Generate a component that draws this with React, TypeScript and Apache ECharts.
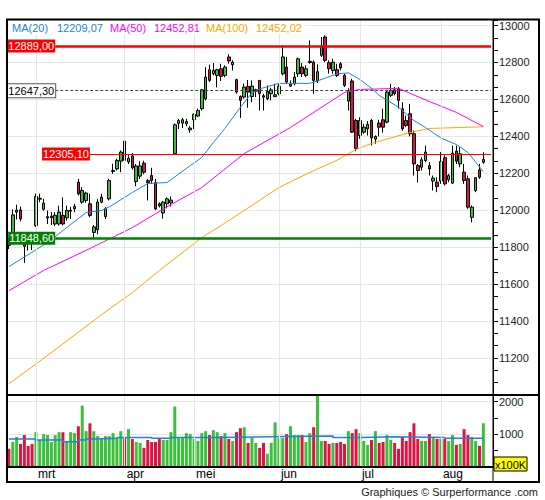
import React, { useEffect, useRef } from 'react';
import * as echarts from 'echarts';

const FONT = '"Liberation Sans", Arial, sans-serif';
const SLOT_COUNT = 126;
const categories = Array.from({ length: SLOT_COUNT }, (_, i) => `d${i}`);

const months = ['mrt', 'apr', 'mei', 'jun', 'jul', 'aug'];
const monthStartIdx = [7, 30, 48, 70, 91, 112];

// [open, close, low, high]
const ohlc: number[][] = [
  [11830, 11810, 11790, 11850], [11850, 11975, 11830, 12005], [11990, 12000, 11950, 12030], [12002, 11953, 11940, 12020], [11840, 11805, 11715, 11870],
  [11830, 11822, 11782, 11854], [11840, 11830, 11785, 11855], [11917, 12075, 11910, 12090], [12060, 12065, 12044, 12089], [12005, 12038, 11998, 12062],
  [11958, 11965, 11926, 11999], [11960, 11968, 11920, 11990], [11926, 11973, 11915, 11990], [11926, 11990, 11917, 12025], [11972, 11926, 11918, 12070],
  [11959, 11999, 11944, 12025], [11995, 12000, 11953, 12017], [12008, 12020, 11990, 12035], [12152, 12089, 12080, 12170], [12044, 12107, 12035, 12125],
  [12053, 12093, 12040, 12100], [12035, 11972, 11962, 12089], [11880, 11910, 11850, 11920], [11895, 12045, 11870, 12060], [12044, 12071, 12038, 12089],
  [11966, 12008, 11953, 12017], [12062, 12161, 12053, 12170], [12210, 12215, 12197, 12252], [12224, 12270, 12215, 12279], [12266, 12315, 12206, 12324],
  [12375, 12270, 12265, 12385], [12262, 12282, 12250, 12300], [12295, 12230, 12220, 12310], [12155, 12240, 12130, 12250], [12185, 12240, 12170, 12265],
  [12255, 12206, 12195, 12268], [12160, 12150, 12053, 12170], [12188, 12161, 12143, 12230], [12149, 12008, 12000, 12170], [12035, 12024, 12015, 12044],
  [11985, 12044, 11955, 12050], [12035, 12062, 12010, 12070], [12040, 12055, 12020, 12075], [12306, 12463, 12300, 12470], [12470, 12485, 12440, 12495],
  [12472, 12490, 12445, 12500], [12468, 12480, 12455, 12495], [12435, 12445, 12420, 12455], [12490, 12519, 12440, 12525], [12510, 12540, 12505, 12550],
  [12550, 12652, 12540, 12657], [12604, 12721, 12595, 12775], [12761, 12703, 12694, 12788], [12739, 12757, 12730, 12797], [12730, 12761, 12665, 12766],
  [12766, 12725, 12700, 12793], [12730, 12775, 12720, 12785], [12830, 12808, 12793, 12845], [12788, 12802, 12757, 12812], [12707, 12640, 12631, 12712],
  [12616, 12595, 12500, 12622], [12613, 12667, 12604, 12685], [12670, 12640, 12555, 12705], [12616, 12672, 12585, 12703], [12645, 12652, 12613, 12658],
  [12703, 12631, 12540, 12703], [12620, 12612, 12540, 12631], [12604, 12643, 12595, 12676], [12631, 12652, 12595, 12663], [12615, 12625, 12613, 12685],
  [12631, 12671, 12622, 12685], [12739, 12830, 12730, 12893], [12775, 12694, 12685, 12830], [12672, 12682, 12667, 12703], [12685, 12721, 12676, 12748],
  [12739, 12820, 12721, 12826], [12775, 12739, 12721, 12797], [12730, 12766, 12721, 12784], [12800, 12806, 12793, 12920], [12802, 12703, 12631, 12811],
  [12700, 12750, 12690, 12790], [12839, 12889, 12830, 12938], [12938, 12812, 12802, 12947], [12799, 12766, 12740, 12812], [12757, 12802, 12739, 12820],
  [12761, 12730, 12721, 12793], [12793, 12770, 12757, 12802], [12730, 12676, 12667, 12739], [12591, 12647, 12540, 12660], [12700, 12423, 12418, 12712],
  [12486, 12335, 12320, 12495], [12405, 12486, 12387, 12504], [12423, 12450, 12414, 12468], [12441, 12465, 12405, 12483], [12486, 12392, 12351, 12495],
  [12385, 12400, 12360, 12405], [12472, 12450, 12400, 12490], [12490, 12450, 12420, 12550], [12477, 12640, 12470, 12652], [12622, 12649, 12613, 12685],
  [12652, 12631, 12622, 12667], [12658, 12595, 12550, 12667], [12549, 12441, 12430, 12585], [12486, 12459, 12450, 12513], [12522, 12414, 12400, 12576],
  [12414, 12251, 12188, 12432], [12242, 12215, 12150, 12251], [12233, 12273, 12215, 12287], [12269, 12315, 12260, 12350], [12242, 12224, 12188, 12260],
  [12158, 12174, 12107, 12188], [12152, 12129, 12098, 12179], [12158, 12264, 12143, 12315], [12284, 12143, 12134, 12297], [12165, 12188, 12152, 12197],
  [12147, 12309, 12143, 12350], [12320, 12266, 12251, 12350], [12251, 12306, 12233, 12342], [12206, 12161, 12143, 12251], [12170, 12017, 12008, 12188],
  [11962, 12017, 11935, 12026], [12107, 12176, 12098, 12179], [12219, 12179, 12170, 12251], [12260, 12275, 12251, 12314],
];

// volume, in units of 100K
const volumes = [
  555, 765, 915, 705, 975, 645, 705, 1065, 825, 1005,
  975, 765, 975, 1065, 1065, 765, 1065, 1035, 1245, 1875,
  1095, 1335, 1095, 945, 855, 945, 945, 1035, 885, 1095,
  885, 1155, 855, 765, 735, 585, 825, 765, 765, 855,
  825, 825, 1065, 1845, 885, 885, 1035, 1005, 855, 795,
  1035, 1095, 975, 1125, 1065, 945, 1035, 855, 795, 1065,
  1185, 1215, 735, 885, 735, 585, 735, 405, 735, 1365,
  885, 885, 1005, 1245, 975, 975, 975, 765, 1035, 1215,
  2175, 795, 795, 705, 735, 735, 765, 705, 1095, 1035,
  1155, 1035, 795, 675, 825, 1095, 735, 765, 975, 825,
  735, 555, 915, 795, 1065, 1335, 855, 795, 795, 1005,
  885, 855, 855, 855, 795, 975, 675, 705, 1155, 975,
  915, 795, 645, 1335,
];

// moving averages: [day index, value]
const ma20Pts = [
  [0, 11695], [10, 11825], [20, 11988], [24, 11999], [26, 12018], [32, 12096], [36, 12145], [41, 12150],
  [47, 12242], [50, 12286], [53, 12367], [56, 12443], [60, 12557], [63, 12635], [65, 12657], [70, 12687],
  [78, 12687], [80, 12700], [85, 12738], [88, 12744], [91, 12708], [94, 12660], [96, 12622], [101, 12558],
  [105, 12486], [108, 12448], [112, 12391], [116, 12356], [119, 12313], [123, 12209],
];
const ma50Pts = [
  [0, 11565], [9, 11674], [21, 11793], [32, 11906], [42, 12031], [50, 12123], [61, 12307], [73, 12448],
  [87, 12638], [91, 12654], [101, 12660], [104, 12633], [109, 12589], [116, 12530], [123, 12453],
];
const ma100Pts = [
  [0, 11061], [11, 11229], [24, 11435], [32, 11554], [39, 11674], [50, 11852], [55, 11917], [63, 12026],
  [70, 12123], [78, 12205], [85, 12270], [90, 12329], [94, 12362], [104, 12421], [109, 12443], [123, 12452],
];
const volAvgPts = [
  [0, 855], [7, 825], [14, 775], [18, 825], [20, 855], [22, 875], [28, 905], [37, 875], [42, 905],
  [54, 925], [67, 945], [84, 905], [91, 925], [100, 905], [113, 875], [123, 875],
];

const legendItems = [
  { text: 'MA(20)', color: '#1e82dc' },
  { text: '12209,07', color: '#1e82dc' },
  { text: 'MA(50)', color: '#ff00ff' },
  { text: '12452,81', color: '#ff00ff' },
  { text: 'MA(100)', color: '#ffa500' },
  { text: '12452,02', color: '#ffa500' },
];
const legendX = [12, 57, 110, 154, 206, 256];

const levelValues = [12889.0, 12647.3, 12305.1, 11848.6];
const levelLabels = ['12889,00', '12647,30', '12305,10', '11848,60'];
const levelStartIdx = [12, 12, 21, 12];

const GREEN = '#3cbf3c';
const RED = '#dc1443';
const BLUE = '#1e82dc';

const levelStyles = [
  { line: { color: '#ff0000', width: 2.5, type: 'solid' }, label: { color: '#fff', backgroundColor: '#ff0000' } },
  { line: { color: '#444', width: 1, type: [3, 2] }, label: { color: '#000', backgroundColor: '#fff', borderColor: '#555', borderWidth: 1 } },
  { line: { color: '#ff0000', width: 1, type: 'solid' }, label: { color: '#fff', backgroundColor: '#ff0000' } },
  { line: { color: '#008000', width: 2.5, type: 'solid' }, label: { color: '#fff', backgroundColor: '#008000' } },
];

export default function App() {
  const ref = useRef<HTMLDivElement>(null);

  useEffect(() => {
    document.body.style.margin = '0';
    const chart = echarts.init(ref.current!, null, { renderer: 'svg' });

    const volData = volumes.map((v, i) => ({
      value: v,
      itemStyle: { color: ohlc[i][1] >= ohlc[i][0] ? GREEN : RED },
    }));

    const monthLines = monthStartIdx.map((i) => ({ xAxis: i }));

    const levelData = levelValues.map((v, k) => [
      {
        coord: [levelStartIdx[k], v],
        lineStyle: levelStyles[k].line,
        label: {
          show: true,
          position: 'start',
          distance: 0,
          formatter: levelLabels[k],
          fontSize: 11,
          fontFamily: FONT,
          lineHeight: 12,
          padding: [1, 1, 0, 1],
          ...levelStyles[k].label,
        },
      },
      { coord: [SLOT_COUNT - 1, v] },
    ]);

    const option: any = {
      animation: false,
      grid: [
        { left: 7, top: 20, width: 486, height: 375 },
        { left: 7, top: 395, width: 486, height: 72 },
      ],
      xAxis: [
        {
          type: 'category', gridIndex: 0, data: categories, boundaryGap: true,
          axisLine: { show: false }, axisTick: { show: false }, axisLabel: { show: false }, splitLine: { show: false },
        },
        {
          type: 'category', gridIndex: 1, data: categories, boundaryGap: true,
          axisLine: { show: false }, axisTick: { show: false }, splitLine: { show: false },
          axisLabel: {
            show: true,
            interval: (i: number) => monthStartIdx.includes(i),
            formatter: (_v: string, i: number) => {
              const k = monthStartIdx.indexOf(i);
              return k >= 0 ? months[k] : '';
            },
            align: 'left',
            padding: [0, 0, 0, 2],
            margin: 1,
            fontSize: 12,
            color: '#000',
            fontFamily: FONT,
          },
        },
      ],
      yAxis: [
        {
          type: 'value', gridIndex: 0, position: 'right', min: 11000, max: 13030, interval: 200,
          axisLine: { show: true, lineStyle: { color: '#000', width: 1 } },
          axisTick: { show: true, length: 5, lineStyle: { color: '#000' } },
          minorTick: { show: true, splitNumber: 3, length: 5, lineStyle: { color: '#000' } },
          axisLabel: {
            margin: 6, fontSize: 11, color: '#222', fontFamily: FONT,
            formatter: (v: number) => (v >= 11200 && v <= 13000 && v % 200 === 0 ? String(v) : ''),
          },
          splitLine: { show: true, lineStyle: { color: '#e6e6e6', width: 1 } },
        },
        {
          type: 'value', gridIndex: 1, position: 'right', min: 0, max: 2200, interval: 1000,
          axisLine: { show: true, lineStyle: { color: '#000', width: 1 } },
          axisTick: { show: true, length: 5, lineStyle: { color: '#000' } },
          minorTick: { show: true, splitNumber: 2, length: 5, lineStyle: { color: '#000' } },
          axisLabel: {
            margin: 6, fontSize: 11, color: '#222', fontFamily: FONT,
            formatter: (v: number) => (v === 1000 || v === 2000 ? String(v) : ''),
          },
          splitLine: { show: true, lineStyle: { color: '#e6e6e6', width: 1 } },
        },
      ],
      series: [
        {
          type: 'line', xAxisIndex: 0, yAxisIndex: 0, data: [], z: 1, silent: true,
          markLine: {
            silent: true, symbol: ['none', 'none'], label: { show: false }, emphasis: { disabled: true },
            lineStyle: { color: '#e6e6e6', width: 1, type: 'solid' }, data: monthLines,
          },
        },
        {
          type: 'line', xAxisIndex: 1, yAxisIndex: 1, data: [], z: 1, silent: true,
          markLine: {
            silent: true, symbol: ['none', 'none'], label: { show: false }, emphasis: { disabled: true },
            lineStyle: { color: '#e6e6e6', width: 1, type: 'solid' }, data: monthLines,
          },
        },
        {
          type: 'candlestick', xAxisIndex: 0, yAxisIndex: 0, data: ohlc, barWidth: 3, z: 2,
          itemStyle: { color: GREEN, color0: RED, borderColor: '#000', borderColor0: '#000', borderWidth: 1 },
        },
        {
          type: 'line', xAxisIndex: 0, yAxisIndex: 0, data: ma100Pts, showSymbol: false, symbol: 'none', z: 3,
          lineStyle: { color: '#ffa500', width: 1 }, silent: true,
        },
        {
          type: 'line', xAxisIndex: 0, yAxisIndex: 0, data: ma50Pts, showSymbol: false, symbol: 'none', z: 3,
          lineStyle: { color: '#ff00ff', width: 1 }, silent: true,
        },
        {
          type: 'line', xAxisIndex: 0, yAxisIndex: 0, data: ma20Pts, showSymbol: false, symbol: 'none', z: 3,
          lineStyle: { color: BLUE, width: 1 }, silent: true,
        },
        {
          type: 'line', xAxisIndex: 0, yAxisIndex: 0, data: [], z: 4, silent: true,
          markLine: { silent: true, symbol: ['none', 'none'], emphasis: { disabled: true }, data: levelData },
        },
        {
          type: 'bar', xAxisIndex: 1, yAxisIndex: 1, data: volData, barWidth: 3, z: 2, silent: true,
        },
        {
          type: 'line', xAxisIndex: 1, yAxisIndex: 1, data: volAvgPts, step: 'end', showSymbol: false, symbol: 'none',
          z: 3, lineStyle: { color: BLUE, width: 1.5 }, silent: true,
        },
      ],
      graphic: [
        { type: 'rect', z: 50, silent: true, shape: { x: 9, y: 21, width: 296, height: 13 }, style: { fill: '#fff' } },
        ...legendItems.map((it, k) => ({
          type: 'text', z: 51, silent: true, x: legendX[k], y: 28,
          style: {
            text: it.text, fill: it.color, font: `11px ${FONT}`,
            textAlign: 'left', textVerticalAlign: 'middle', align: 'left', verticalAlign: 'middle',
          },
        })),
        { type: 'rect', z: 100, silent: true, shape: { x: 7, y: 19.5, width: 532, height: 462.5 }, style: { fill: 'none', stroke: '#000', lineWidth: 2 } },
        { type: 'line', z: 100, silent: true, shape: { x1: 7, y1: 395, x2: 539, y2: 395 }, style: { stroke: '#000', lineWidth: 2 } },
        { type: 'line', z: 100, silent: true, shape: { x1: 7, y1: 467, x2: 493, y2: 467 }, style: { stroke: '#000', lineWidth: 2 } },
        { type: 'line', z: 100, silent: true, shape: { x1: 493, y1: 19.5, x2: 493, y2: 482 }, style: { stroke: '#000', lineWidth: 1 } },
        { type: 'rect', z: 101, silent: true, shape: { x: 494, y: 457, width: 33, height: 14 }, style: { fill: '#ffff00', stroke: '#000', lineWidth: 1 } },
        {
          type: 'text', z: 102, silent: true, x: 510.5, y: 464.5,
          style: { text: 'x100K', fill: '#000', font: `11px ${FONT}`, textAlign: 'center', textVerticalAlign: 'middle', align: 'center', verticalAlign: 'middle' },
        },
        {
          type: 'text', z: 102, silent: true, x: 538, y: 491.5,
          style: { text: 'Graphiques © Surperformance .com', fill: '#222', font: `11px ${FONT}`, textAlign: 'right', textVerticalAlign: 'middle', align: 'right', verticalAlign: 'middle' },
        },
      ],
    };

    chart.setOption(option);
    return () => chart.dispose();
  }, []);

  return <div ref={ref} style={{ width: 545, height: 500 }} />;
}
